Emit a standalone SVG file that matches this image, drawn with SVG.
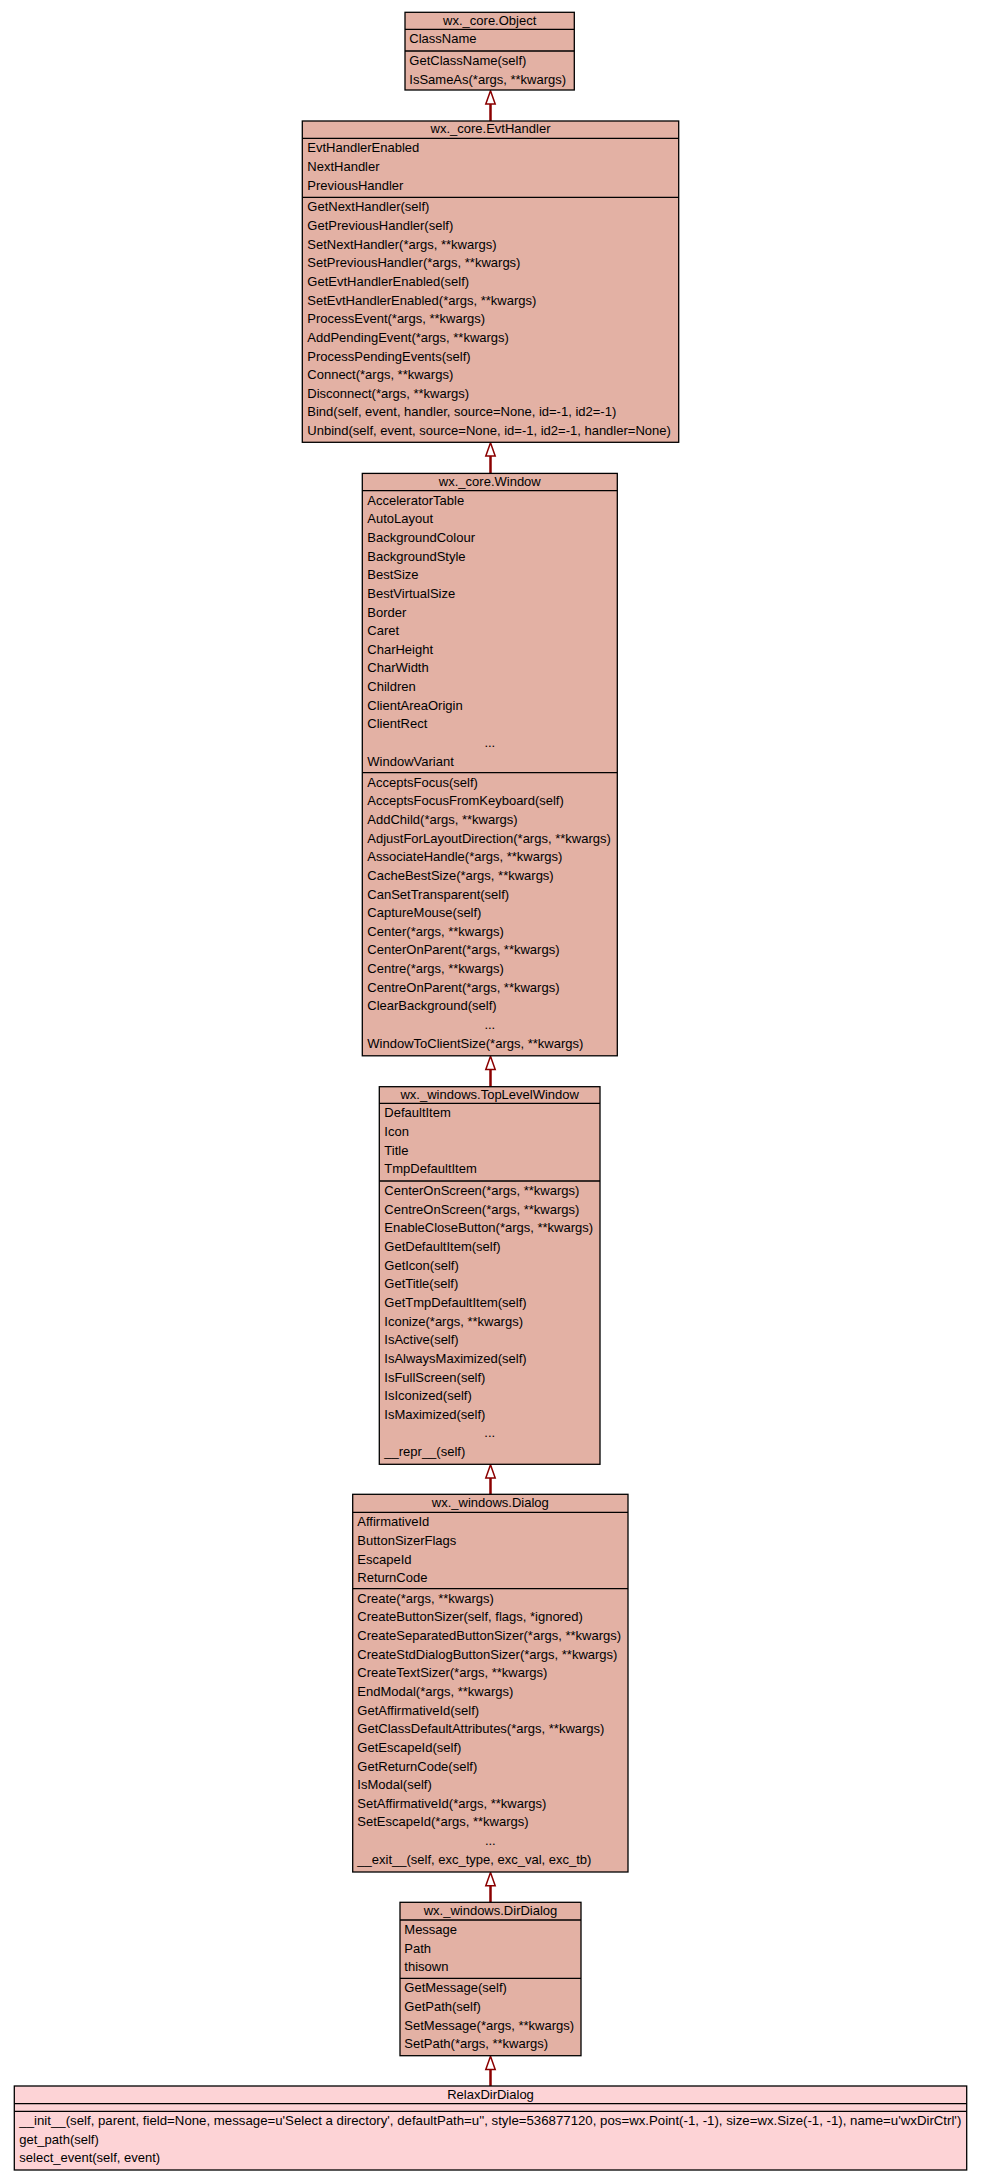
<svg xmlns="http://www.w3.org/2000/svg" width="981" height="2181" viewBox="0 0 981 2181">
<style>
text{font-family:"Liberation Sans",Arial,Helvetica,sans-serif;font-size:13px;fill:#000}
.t{text-anchor:middle}
.box{fill:#e3b1a4;stroke:#000;stroke-width:1.3}
.leaf{fill:#fdd3d6;stroke:#000;stroke-width:1.3}
.sep{stroke:#000;stroke-width:1.3}
.edge{stroke:#8b0000;stroke-width:2.5;fill:none}
.head{fill:#fff;stroke:#8b0000;stroke-width:1.5}
</style>
<rect width="981" height="2181" fill="#fff"/>

<g id="connectors">
<line class="edge" x1="490.5" y1="103.5" x2="490.5" y2="121"/>
<polygon class="head" points="490.5,90.7 485.8,104 495.2,104"/>
<line class="edge" x1="490.5" y1="455" x2="490.5" y2="473.4"/>
<polygon class="head" points="490.5,442.8 485.8,456 495.2,456"/>
<line class="edge" x1="490.5" y1="1068.5" x2="490.5" y2="1086.7"/>
<polygon class="head" points="490.5,1056.3 485.8,1069.5 495.2,1069.5"/>
<line class="edge" x1="490.5" y1="1477" x2="490.5" y2="1494.3"/>
<polygon class="head" points="490.5,1464.8 485.8,1478 495.2,1478"/>
<line class="edge" x1="490.5" y1="1884.7" x2="490.5" y2="1902.3"/>
<polygon class="head" points="490.5,1872.5 485.8,1885.7 495.2,1885.7"/>
<line class="edge" x1="490.5" y1="2068.4" x2="490.5" y2="2086"/>
<polygon class="head" points="490.5,2056.2 485.8,2069.4 495.2,2069.4"/>
</g>

<g id="node-object">
<rect class="box" x="405" y="12.3" width="169.3" height="77.7"/>
<line class="sep" x1="405" y1="29.3" x2="574.3" y2="29.3"/>
<line class="sep" x1="405" y1="51" x2="574.3" y2="51"/>
<text class="t" x="489.7" y="24.6">wx._core.Object</text>
<text x="409.3" y="43.3">ClassName</text>
<text x="409.3" y="65">GetClassName(self)</text>
<text x="409.3" y="83.6">IsSameAs(*args, **kwargs)</text>
</g>

<g id="node-evthandler">
<rect class="box" x="302.3" y="121" width="376.4" height="321.3"/>
<line class="sep" x1="302.3" y1="138.3" x2="678.7" y2="138.3"/>
<line class="sep" x1="302.3" y1="197.3" x2="678.7" y2="197.3"/>
<text class="t" x="490.5" y="133.3">wx._core.EvtHandler</text>
<text x="307.3" y="152.3"><tspan x="307.3">EvtHandlerEnabled</tspan><tspan x="307.3" dy="18.65">NextHandler</tspan><tspan x="307.3" dy="18.65">PreviousHandler</tspan></text>
<text x="307.3" y="211.3"><tspan x="307.3">GetNextHandler(self)</tspan><tspan x="307.3" dy="18.65">GetPreviousHandler(self)</tspan><tspan x="307.3" dy="18.65">SetNextHandler(*args, **kwargs)</tspan><tspan x="307.3" dy="18.65">SetPreviousHandler(*args, **kwargs)</tspan><tspan x="307.3" dy="18.65">GetEvtHandlerEnabled(self)</tspan><tspan x="307.3" dy="18.65">SetEvtHandlerEnabled(*args, **kwargs)</tspan><tspan x="307.3" dy="18.65">ProcessEvent(*args, **kwargs)</tspan><tspan x="307.3" dy="18.65">AddPendingEvent(*args, **kwargs)</tspan><tspan x="307.3" dy="18.65">ProcessPendingEvents(self)</tspan><tspan x="307.3" dy="18.65">Connect(*args, **kwargs)</tspan><tspan x="307.3" dy="18.65">Disconnect(*args, **kwargs)</tspan><tspan x="307.3" dy="18.65">Bind(self, event, handler, source=None, id=-1, id2=-1)</tspan><tspan x="307.3" dy="18.65">Unbind(self, event, source=None, id=-1, id2=-1, handler=None)</tspan></text>
</g>

<g id="node-window">
<rect class="box" x="362.3" y="473.4" width="255" height="582.4"/>
<line class="sep" x1="362.3" y1="490.6" x2="617.3" y2="490.6"/>
<line class="sep" x1="362.3" y1="772.6" x2="617.3" y2="772.6"/>
<text class="t" x="489.8" y="485.7">wx._core.Window</text>
<text x="367.3" y="504.6"><tspan x="367.3">AcceleratorTable</tspan><tspan x="367.3" dy="18.65">AutoLayout</tspan><tspan x="367.3" dy="18.65">BackgroundColour</tspan><tspan x="367.3" dy="18.65">BackgroundStyle</tspan><tspan x="367.3" dy="18.65">BestSize</tspan><tspan x="367.3" dy="18.65">BestVirtualSize</tspan><tspan x="367.3" dy="18.65">Border</tspan><tspan x="367.3" dy="18.65">Caret</tspan><tspan x="367.3" dy="18.65">CharHeight</tspan><tspan x="367.3" dy="18.65">CharWidth</tspan><tspan x="367.3" dy="18.65">Children</tspan><tspan x="367.3" dy="18.65">ClientAreaOrigin</tspan><tspan x="367.3" dy="18.65">ClientRect</tspan></text>
<text class="t" x="489.8" y="747">...</text>
<text x="367.3" y="765.7">WindowVariant</text>
<text x="367.3" y="786.6"><tspan x="367.3">AcceptsFocus(self)</tspan><tspan x="367.3" dy="18.65">AcceptsFocusFromKeyboard(self)</tspan><tspan x="367.3" dy="18.65">AddChild(*args, **kwargs)</tspan><tspan x="367.3" dy="18.65">AdjustForLayoutDirection(*args, **kwargs)</tspan><tspan x="367.3" dy="18.65">AssociateHandle(*args, **kwargs)</tspan><tspan x="367.3" dy="18.65">CacheBestSize(*args, **kwargs)</tspan><tspan x="367.3" dy="18.65">CanSetTransparent(self)</tspan><tspan x="367.3" dy="18.65">CaptureMouse(self)</tspan><tspan x="367.3" dy="18.65">Center(*args, **kwargs)</tspan><tspan x="367.3" dy="18.65">CenterOnParent(*args, **kwargs)</tspan><tspan x="367.3" dy="18.65">Centre(*args, **kwargs)</tspan><tspan x="367.3" dy="18.65">CentreOnParent(*args, **kwargs)</tspan><tspan x="367.3" dy="18.65">ClearBackground(self)</tspan></text>
<text class="t" x="489.8" y="1029">...</text>
<text x="367.3" y="1047.7">WindowToClientSize(*args, **kwargs)</text>
</g>

<g id="node-toplevelwindow">
<rect class="box" x="379.3" y="1086.7" width="220.7" height="377.6"/>
<line class="sep" x1="379.3" y1="1103.3" x2="600" y2="1103.3"/>
<line class="sep" x1="379.3" y1="1181" x2="600" y2="1181"/>
<text class="t" x="489.7" y="1099">wx._windows.TopLevelWindow</text>
<text x="384.3" y="1117.3"><tspan x="384.3">DefaultItem</tspan><tspan x="384.3" dy="18.65">Icon</tspan><tspan x="384.3" dy="18.65">Title</tspan><tspan x="384.3" dy="18.65">TmpDefaultItem</tspan></text>
<text x="384.3" y="1195"><tspan x="384.3">CenterOnScreen(*args, **kwargs)</tspan><tspan x="384.3" dy="18.65">CentreOnScreen(*args, **kwargs)</tspan><tspan x="384.3" dy="18.65">EnableCloseButton(*args, **kwargs)</tspan><tspan x="384.3" dy="18.65">GetDefaultItem(self)</tspan><tspan x="384.3" dy="18.65">GetIcon(self)</tspan><tspan x="384.3" dy="18.65">GetTitle(self)</tspan><tspan x="384.3" dy="18.65">GetTmpDefaultItem(self)</tspan><tspan x="384.3" dy="18.65">Iconize(*args, **kwargs)</tspan><tspan x="384.3" dy="18.65">IsActive(self)</tspan><tspan x="384.3" dy="18.65">IsAlwaysMaximized(self)</tspan><tspan x="384.3" dy="18.65">IsFullScreen(self)</tspan><tspan x="384.3" dy="18.65">IsIconized(self)</tspan><tspan x="384.3" dy="18.65">IsMaximized(self)</tspan></text>
<text class="t" x="489.7" y="1437.4">...</text>
<text x="384.3" y="1456.1">__repr__(self)</text>
</g>

<g id="node-dialog">
<rect class="box" x="352.7" y="1494.3" width="275.3" height="377.7"/>
<line class="sep" x1="352.7" y1="1512.3" x2="628" y2="1512.3"/>
<line class="sep" x1="352.7" y1="1588.7" x2="628" y2="1588.7"/>
<text class="t" x="490.3" y="1506.8">wx._windows.Dialog</text>
<text x="357.3" y="1526.3"><tspan x="357.3">AffirmativeId</tspan><tspan x="357.3" dy="18.65">ButtonSizerFlags</tspan><tspan x="357.3" dy="18.65">EscapeId</tspan><tspan x="357.3" dy="18.65">ReturnCode</tspan></text>
<text x="357.3" y="1602.7"><tspan x="357.3">Create(*args, **kwargs)</tspan><tspan x="357.3" dy="18.65">CreateButtonSizer(self, flags, *ignored)</tspan><tspan x="357.3" dy="18.65">CreateSeparatedButtonSizer(*args, **kwargs)</tspan><tspan x="357.3" dy="18.65">CreateStdDialogButtonSizer(*args, **kwargs)</tspan><tspan x="357.3" dy="18.65">CreateTextSizer(*args, **kwargs)</tspan><tspan x="357.3" dy="18.65">EndModal(*args, **kwargs)</tspan><tspan x="357.3" dy="18.65">GetAffirmativeId(self)</tspan><tspan x="357.3" dy="18.65">GetClassDefaultAttributes(*args, **kwargs)</tspan><tspan x="357.3" dy="18.65">GetEscapeId(self)</tspan><tspan x="357.3" dy="18.65">GetReturnCode(self)</tspan><tspan x="357.3" dy="18.65">IsModal(self)</tspan><tspan x="357.3" dy="18.65">SetAffirmativeId(*args, **kwargs)</tspan><tspan x="357.3" dy="18.65">SetEscapeId(*args, **kwargs)</tspan></text>
<text class="t" x="490.3" y="1845.1">...</text>
<text x="357.3" y="1863.8">__exit__(self, exc_type, exc_val, exc_tb)</text>
</g>

<g id="node-dirdialog">
<rect class="box" x="400" y="1902.3" width="181" height="153.4"/>
<line class="sep" x1="400" y1="1920" x2="581" y2="1920"/>
<line class="sep" x1="400" y1="1978.3" x2="581" y2="1978.3"/>
<text class="t" x="490.5" y="1914.6">wx._windows.DirDialog</text>
<text x="404.3" y="1934"><tspan x="404.3">Message</tspan><tspan x="404.3" dy="18.65">Path</tspan><tspan x="404.3" dy="18.65">thisown</tspan></text>
<text x="404.3" y="1992.3"><tspan x="404.3">GetMessage(self)</tspan><tspan x="404.3" dy="18.65">GetPath(self)</tspan><tspan x="404.3" dy="18.65">SetMessage(*args, **kwargs)</tspan><tspan x="404.3" dy="18.65">SetPath(*args, **kwargs)</tspan></text>
</g>

<g id="node-relaxdirdialog">
<rect class="leaf" x="14.3" y="2086" width="952.4" height="84"/>
<line class="sep" x1="14.3" y1="2103.7" x2="966.7" y2="2103.7"/>
<line class="sep" x1="14.3" y1="2111.3" x2="966.7" y2="2111.3"/>
<text class="t" x="490.5" y="2098.6">RelaxDirDialog</text>
<text x="19.3" y="2124.5" textLength="942" lengthAdjust="spacingAndGlyphs">__init__(self, parent, field=None, message=u'Select a directory', defaultPath=u'', style=536877120, pos=wx.Point(-1, -1), size=wx.Size(-1, -1), name=u'wxDirCtrl')</text>
<text x="19.3" y="2143.6">get_path(self)</text>
<text x="19.3" y="2162.4">select_event(self, event)</text>
</g>
</svg>
